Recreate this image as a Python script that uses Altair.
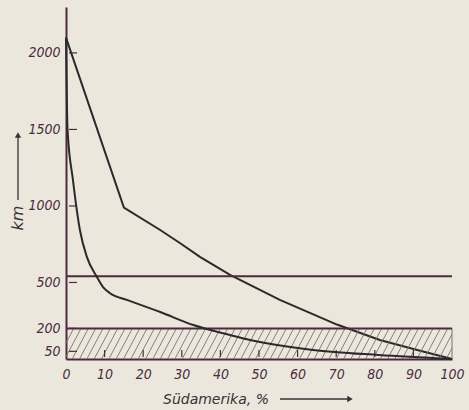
import altair as alt
import numpy as np
import pandas as pd

# Curve A (upper, piecewise-linear)
xA = [0, 15, 24.4, 29.5, 34.7, 42.5, 55.4, 70.2, 81.3, 91, 100]
yA = [2100, 990, 843, 758, 667, 549, 386, 225, 124, 59, 0]
# Curve B (lower, steep)
xB = [0, 0.4, 1.8, 3.6, 5.4, 8, 9.6, 11.4, 15.8, 24.4, 33, 42.5, 47.7, 64, 81, 100]
yB = [2100, 1500, 1170, 843, 667, 536, 470, 430, 386, 307, 222, 157, 124, 59, 26, 0]
# horizontal reference lines (km)
h_lines = [540, 200]
hatch_top = 200
y_ticks = [50, 200, 500, 1000, 1500, 2000]
x_ticks = [0, 10, 20, 30, 40, 50, 60, 70, 80, 90, 100]

BG = "#ece7dd"
INK = "#2b2a2a"
PURPLE = "#4d2b3d"
FONT = "DejaVu Sans Condensed, Liberation Sans, sans-serif"

W, H = 386, 352

xs = alt.Scale(domain=[0, 100], nice=False, zero=False)
ys = alt.Scale(domain=[0, 2300], nice=False, zero=False)

curves = pd.DataFrame(
    {"x": xA + xB, "y": yA + yB, "c": ["A"] * len(xA) + ["B"] * len(xB),
     "o": list(range(len(xA))) + list(range(len(xB)))}
)

X_AX = alt.Axis(values=x_ticks, title=None, ticks=False, grid=False, format="d",
                labelOverlap=False, labelFlush=False, domainColor=PURPLE, domainWidth=2,
                labelPadding=8)
Y_AX = alt.Axis(values=y_ticks, title=None, ticks=False, grid=False, format="d",
                labelOverlap=False, labelFlush=False, domainColor=PURPLE, domainWidth=2,
                labelPadding=6)


def X(field):
    return alt.X(field, scale=xs, axis=X_AX)


def Y(field):
    return alt.Y(field, scale=ys, axis=Y_AX)


lineA = alt.Chart(curves[curves.c == "A"]).mark_line(color=INK, strokeWidth=2).encode(
    x=X("x:Q"), y=Y("y:Q"), order="o:Q",
)
lineB = alt.Chart(curves[curves.c == "B"]).mark_line(
    color=INK, strokeWidth=2, interpolate="monotone"
).encode(x=X("x:Q"), y=Y("y:Q"), order="o:Q")

hdf = pd.DataFrame({"y": h_lines, "x0": [0] * len(h_lines), "x1": [100] * len(h_lines)})
hrules = alt.Chart(hdf).mark_rule(color=PURPLE, strokeWidth=2).encode(
    x=X("x0:Q"), x2="x1:Q", y=Y("y:Q")
)

# hatching for 0..200 km band
starts = np.arange(-6, 100, 1.9)
hatch = pd.DataFrame({"x0": starts, "x1": starts + 4.2,
                      "y0": [0] * len(starts), "y1": [hatch_top] * len(starts)})
hatch_marks = alt.Chart(hatch).mark_rule(color="#7a7070", strokeWidth=0.9, clip=True).encode(
    x=X("x0:Q"), x2="x1:Q", y=Y("y0:Q"), y2="y1:Q"
)
right_edge = alt.Chart(pd.DataFrame({"x": [100], "y0": [0], "y1": [hatch_top]})).mark_rule(
    color="#7a7070", strokeWidth=1
).encode(x=X("x:Q"), y=Y("y0:Q"), y2="y1:Q")

# small y tick dashes inside plot
ytd = pd.DataFrame({"y": y_ticks})
yt = alt.Chart(ytd).mark_rule(color=PURPLE, strokeWidth=1.2).encode(
    x=alt.value(3), x2=alt.value(11), y=Y("y:Q")
)
# small x tick marks inside hatch
xtd = pd.DataFrame({"x": x_ticks[1:-1]})
xt = alt.Chart(xtd).mark_rule(color=PURPLE, strokeWidth=1.2).encode(
    x=X("x:Q"), y=alt.value(H - 9), y2=alt.value(H - 2)
)

one = pd.DataFrame({"a": [0]})
xtitle = alt.Chart(one).mark_text(
    text="Südamerika, %", font="DejaVu Sans", fontStyle="italic", fontSize=14,
    color="#3a3035", align="center", baseline="middle"
).encode(x=alt.value(150), y=alt.value(393))
xarrow = alt.Chart(one).mark_rule(color="#3a3035", strokeWidth=1.3).encode(
    x=alt.value(214), x2=alt.value(283), y=alt.value(392)
)
xhead = alt.Chart(one).mark_point(shape="triangle-right", filled=True, size=40,
                                   color="#3a3035", opacity=1).encode(
    x=alt.value(284), y=alt.value(392)
)
ytitle = alt.Chart(one).mark_text(
    text="km", font="DejaVu Sans", fontStyle="italic", fontSize=16,
    color="#3a3035", angle=270, align="center", baseline="middle"
).encode(x=alt.value(-48), y=alt.value(211))
yarrow = alt.Chart(one).mark_rule(color="#3a3035", strokeWidth=1.3).encode(
    x=alt.value(-48), y=alt.value(193), y2=alt.value(130)
)
yhead = alt.Chart(one).mark_point(shape="triangle-up", filled=True, size=40,
                                   color="#3a3035", opacity=1).encode(
    x=alt.value(-48), y=alt.value(128)
)

chart = alt.layer(
    lineA, hatch_marks, right_edge, hrules, xt, yt, lineB,
    xtitle, xarrow, xhead, ytitle, yarrow, yhead
).properties(
    width=W, height=H, background=BG,
    padding={"left": 66, "top": 7, "right": 17, "bottom": 51},
    autosize=alt.AutoSizeParams(type="none"),
).configure_view(stroke=None).configure_axis(
    labelFont=FONT, labelFontStyle="italic", labelFontSize=14, labelColor="#4a2d3d",
    labelOverlap=False,
)

chart.save("out.html", embed_options={"renderer": "svg", "actions": False})
